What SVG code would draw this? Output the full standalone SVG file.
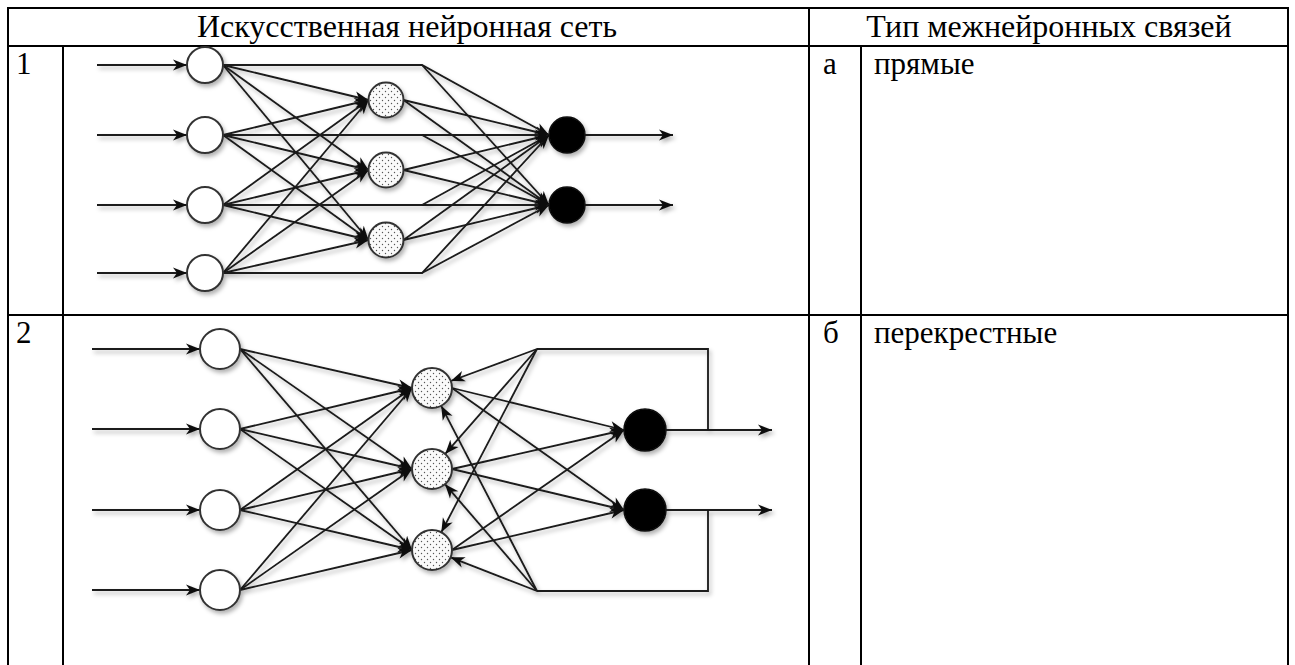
<svg xmlns="http://www.w3.org/2000/svg" width="1295" height="665" viewBox="0 0 1295 665">
<style>
.tb{stroke:#000;stroke-width:2;fill:none}
.t{font-family:"Liberation Serif","Times New Roman",serif;font-size:31px;fill:#000}
.h{font-size:32px}
.c{stroke:#1a1a1a;stroke-width:1.8;fill:none;marker-end:url(#ah)}
.p{stroke:#1a1a1a;stroke-width:1.8;fill:none}
.in{fill:#fff;stroke:#333;stroke-width:2}
.hid{fill:url(#dots);stroke:#333;stroke-width:2}
.out{fill:#000;stroke:#111;stroke-width:1.5}
</style>
<defs>
<marker id="ah" viewBox="-15 -6 16 12" refX="0" refY="0" markerWidth="16" markerHeight="12" markerUnits="userSpaceOnUse" orient="auto">
<path d="M0,0 L-14,-5.5 L-10,0 L-14,5.5 Z" fill="#111"/>
</marker>
<pattern id="dots" width="6" height="6" patternUnits="userSpaceOnUse">
<rect width="6" height="6" fill="#fafafa"/>
<circle cx="1.5" cy="1.5" r="0.7" fill="#555"/>
<circle cx="4.5" cy="4.5" r="0.7" fill="#555"/>
</pattern>
<filter id="sh" x="-10%" y="-10%" width="120%" height="120%">
<feDropShadow dx="2" dy="3" stdDeviation="2" flood-color="#000" flood-opacity="0.3"/>
</filter>
</defs>
<rect width="1295" height="665" fill="#fff"/>

<g id="table">
<line class="tb" x1="7" y1="8" x2="1289" y2="8" stroke-width="2.5"/>
<line class="tb" x1="8" y1="46" x2="1288" y2="46"/>
<line class="tb" x1="8" y1="315" x2="1288" y2="315"/>
<line class="tb" x1="8" y1="7" x2="8" y2="665"/>
<line class="tb" x1="63" y1="46" x2="63" y2="665"/>
<line class="tb" x1="809" y1="7" x2="809" y2="665"/>
<line class="tb" x1="861" y1="46" x2="861" y2="665"/>
<line class="tb" x1="1288" y1="7" x2="1288" y2="665"/>
</g>

<g id="texts">
<text class="t h" x="407" y="37" text-anchor="middle">Искусственная нейронная сеть</text>
<text class="t h" x="1049" y="37" text-anchor="middle">Тип межнейронных связей</text>
<text class="t" x="16" y="74">1</text>
<text class="t" x="16" y="343">2</text>
<text class="t" x="823" y="74">а</text>
<text class="t" x="874" y="74">прямые</text>
<text class="t" x="823" y="343">б</text>
<text class="t" x="874" y="343">перекрестные</text>
</g>

<g id="net1" filter="url(#sh)">
<g id="net1-connectors">
<path class="c" d="M97,65 H187"/>
<path class="c" d="M97,135 H187"/>
<path class="c" d="M97,205 H187"/>
<path class="c" d="M97,273 H187"/>
<path class="c" d="M223,65 L368.5,100"/>
<path class="c" d="M223,65 L368.5,170"/>
<path class="c" d="M223,65 L368.5,240"/>
<path class="c" d="M223,135 L368.5,100"/>
<path class="c" d="M223,135 L368.5,170"/>
<path class="c" d="M223,135 L368.5,240"/>
<path class="c" d="M223,205 L368.5,100"/>
<path class="c" d="M223,205 L368.5,170"/>
<path class="c" d="M223,205 L368.5,240"/>
<path class="c" d="M223,273 L368.5,100"/>
<path class="c" d="M223,273 L368.5,170"/>
<path class="c" d="M223,273 L368.5,240"/>
<path class="c" d="M403.5,100 L549,135"/>
<path class="c" d="M403.5,100 L549,205"/>
<path class="c" d="M403.5,170 L549,135"/>
<path class="c" d="M403.5,170 L549,205"/>
<path class="c" d="M403.5,240 L549,135"/>
<path class="c" d="M403.5,240 L549,205"/>
<path class="c" d="M223,65 H422 L549,135"/>
<path class="c" d="M422,65 L549,205"/>
<path class="c" d="M223,135 H549"/>
<path class="c" d="M422,135 L549,205"/>
<path class="c" d="M223,205 H549"/>
<path class="c" d="M422,205 L549,135"/>
<path class="c" d="M223,273 H422 L549,135"/>
<path class="c" d="M422,273 L549,205"/>
<path class="c" d="M585,135 H673"/>
<path class="c" d="M585,205 H673"/>
</g>
<g id="n1-i1"><circle class="in" cx="205" cy="65" r="18"/></g>
<g id="n1-i2"><circle class="in" cx="205" cy="135" r="18"/></g>
<g id="n1-i3"><circle class="in" cx="205" cy="205" r="18"/></g>
<g id="n1-i4"><circle class="in" cx="205" cy="273" r="18"/></g>
<g id="n1-h1"><circle class="hid" cx="386" cy="100" r="17.5"/></g>
<g id="n1-h2"><circle class="hid" cx="386" cy="170" r="17.5"/></g>
<g id="n1-h3"><circle class="hid" cx="386" cy="240" r="17.5"/></g>
<g id="n1-o1"><circle class="out" cx="567" cy="135" r="18"/></g>
<g id="n1-o2"><circle class="out" cx="567" cy="205" r="18"/></g>
</g>

<g id="net2" filter="url(#sh)">
<g id="net2-connectors">
<path class="c" d="M92,349 H200"/>
<path class="c" d="M92,429 H200"/>
<path class="c" d="M92,510 H200"/>
<path class="c" d="M92,590 H200"/>
<path class="c" d="M240,349 L412,388"/>
<path class="c" d="M240,349 L412,469"/>
<path class="c" d="M240,349 L412,550"/>
<path class="c" d="M240,429 L412,388"/>
<path class="c" d="M240,429 L412,469"/>
<path class="c" d="M240,429 L412,550"/>
<path class="c" d="M240,510 L412,388"/>
<path class="c" d="M240,510 L412,469"/>
<path class="c" d="M240,510 L412,550"/>
<path class="c" d="M240,590 L412,388"/>
<path class="c" d="M240,590 L412,469"/>
<path class="c" d="M240,590 L412,550"/>
<path class="c" d="M452,388 L624,430"/>
<path class="c" d="M452,388 L624,510"/>
<path class="c" d="M452,469 L624,430"/>
<path class="c" d="M452,469 L624,510"/>
<path class="c" d="M452,550 L624,430"/>
<path class="c" d="M452,550 L624,510"/>
<path class="c" d="M666,430 H772"/>
<path class="c" d="M666,510 H772"/>
<path class="p" d="M708,430 V349 H537"/>
<path class="p" d="M708,510 V591 H537"/>
<path class="c" d="M537,349 L450.8,381"/>
<path class="c" d="M537,349 L445.2,453.9"/>
<path class="c" d="M537,349 L441.3,532.3"/>
<path class="c" d="M537,591 L450.6,557.3"/>
<path class="c" d="M537,591 L445,484.2"/>
<path class="c" d="M537,591 L441.2,405.8"/>
</g>
<g id="n2-i1"><circle class="in" cx="220" cy="349" r="20"/></g>
<g id="n2-i2"><circle class="in" cx="220" cy="429" r="20"/></g>
<g id="n2-i3"><circle class="in" cx="220" cy="510" r="20"/></g>
<g id="n2-i4"><circle class="in" cx="220" cy="590" r="20"/></g>
<g id="n2-h1"><circle class="hid" cx="432" cy="388" r="20"/></g>
<g id="n2-h2"><circle class="hid" cx="432" cy="469" r="20"/></g>
<g id="n2-h3"><circle class="hid" cx="432" cy="550" r="20"/></g>
<g id="n2-o1"><circle class="out" cx="645" cy="430" r="21"/></g>
<g id="n2-o2"><circle class="out" cx="645" cy="510" r="21"/></g>
</g>
</svg>
